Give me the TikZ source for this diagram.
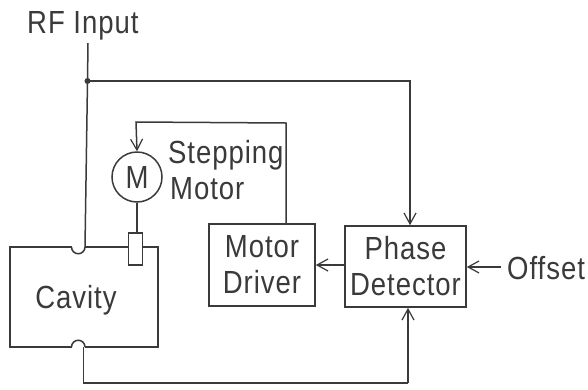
\documentclass[tikz,border=0pt]{standalone}
\usepackage{fontspec}
\setmainfont[FakeStretch=0.86,LetterSpace=3]{Liberation Sans}
\definecolor{ink}{HTML}{3A3A3A}
\usetikzlibrary{arrows.meta}
\tikzset{
  x=1pt,y=-1pt,
  wire/.style={draw=ink,line width=1.5pt},
  arrowed/.style={wire,-{Straight Barb[length=11pt,width=12pt,line width=1.2pt]}},
  blockbox/.style={draw=ink,line width=1.6pt,fill=white,inner sep=0pt,text=ink,align=center,font=\fontsize{32}{36}\selectfont},
  label/.style={text=ink,inner sep=0pt,align=left,font=\fontsize{32}{36}\selectfont}
}
\begin{document}
\begin{tikzpicture}
\useasboundingbox (0,0) rectangle (588,389);
% blocks
\node[blockbox,minimum width=148pt,minimum height=100pt] (cavity) at (84,297) {};
\node[blockbox,minimum width=106pt,minimum height=82pt] (driver) at (262,265) {Motor\\Driver};
\node[blockbox,minimum width=121pt,minimum height=81pt] (phase) at (405.5,266.5) {Phase\\Detector};
\node[blockbox,minimum width=14pt,minimum height=32pt] (tuner) at (135.5,249) {};
\node[draw=ink,line width=1.5pt,circle,minimum size=50pt,inner sep=0pt,text=ink,font=\fontsize{32}{32}\selectfont] (motor) at (137,177) {M};
% labels
\node[label,anchor=base] (cavitylbl) at (76,308) {Cavity};
\node[label,anchor=base west] (rf) at (27,33) {RF Input};
\node[label,anchor=base west] (stepping) at (168,163) {Stepping};
\node[label,anchor=base west] (motorlbl) at (170,199) {Motor};
\node[label,anchor=base west] (offset) at (507,279) {Offset};
% coupling notches
\fill[white] (72,246) rectangle (85,248.5);
\draw[wire] (71.5,247) arc[start angle=180,end angle=0,radius=6.75];
\fill[white] (72,345.5) rectangle (85,348);
\draw[wire] (71.5,347) arc[start angle=180,end angle=360,radius=6.75];
% named points
\coordinate (top) at (88,43);
\coordinate (tee) at (87.5,81);
\coordinate (right) at (410,81);
\coordinate (incav) at (85,247);
\coordinate (outcav) at (83.5,347);
\coordinate (low) at (83.5,383);
\coordinate (lowr) at (408,383);
\coordinate (mtop) at (136,122);
\coordinate (drv) at (286,123);
% connectors
\draw[wire] (top) -- (tee) -- (incav);
\fill[ink] (tee) circle (3pt);
\draw[arrowed] (tee) -- (right) -- (phase.north -| right);
\draw[wire] (outcav) -- (low) -- (lowr);
\draw[arrowed] (lowr) -- (phase.south -| lowr);
\draw[arrowed] (driver.north -| drv) -- (drv) -- (mtop) -- (motor.north);
\draw[wire] (motor.south) -- (motor.south |- tuner.north);
\draw[arrowed] (phase.west |- 0,265) -- (driver.east |- 0,265);
\draw[arrowed] (offset.west |- 0,267) ++(-6,0) -- (phase.east |- 0,267);
\end{tikzpicture}
\end{document}
